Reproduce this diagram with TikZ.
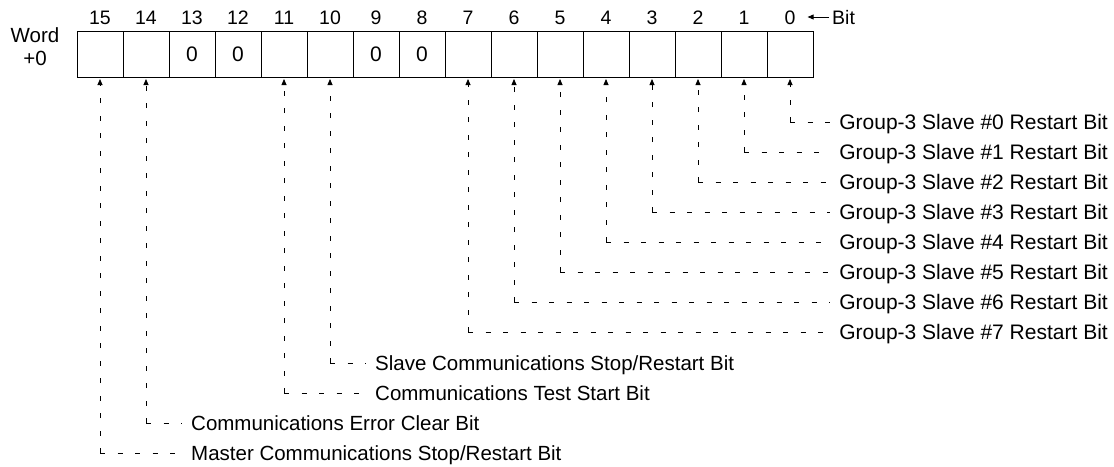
\documentclass[tikz,border=0pt]{standalone}
\usepackage{fontspec}
\setmainfont{Liberation Sans}
\usetikzlibrary{arrows.meta}

\begin{document}
\begin{tikzpicture}[
  x=1pt, y=-1pt,
  font=\fontsize{20.5}{24}\selectfont,
  cell/.style={rectangle, draw=black, line width=1pt, minimum width=46pt, minimum height=46pt, inner sep=0pt, text height=15pt, text depth=0pt, font=\fontsize{21}{24}\selectfont},
  bitnum/.style={inner sep=0pt, text height=14pt, text depth=0pt, font=\fontsize{19.5}{22}\selectfont},
  desc/.style={inner xsep=9pt, inner ysep=2pt, text height=15pt, text depth=0pt},
  dline/.style={line width=0.8pt, dash pattern=on 5pt off 12.5pt},
  conn/.style={dline, -{Triangle[width=5pt,length=6pt]}, shorten >=1.5pt},
  ptr/.style={-{Triangle[width=5pt,length=6pt]}, line width=0.8pt},
]
  \useasboundingbox (0,0) rectangle (1114,466);

  % Word +0 register
  \node[bitnum, font=\fontsize{20.5}{24}\selectfont, text height=15pt] (word) at (35,35) {Word};
  \node[bitnum, font=\fontsize{20.5}{24}\selectfont, text height=15pt] (off) at (35,58) {+0};
  \foreach \b/\v in {15/,14/,13/0,12/0,11/,10/,9/0,8/0,7/,6/,5/,4/,3/,2/,1/,0/} {
    \node[cell] (c\b) at ({100+46*(15-\b)},54) {\v};
    \node[bitnum] (n\b) at ({100+46*(15-\b)},17) {\b};
  }
  \node[bitnum, anchor=west] (bit) at (832,17) {Bit};
  \draw[ptr, shorten <=3pt, shorten >=12pt] (bit.west) -- (n0.east);

  % Bit descriptions
  \foreach \b in {0,...,7}
    \node[desc, anchor=east, font=\fontsize{21}{24}\selectfont] (g\b) at (1117,{122+30*\b}) {Group-3 Slave \#\b{} Restart Bit};
  \node[desc, anchor=west] (slv) at (366,363) {Slave Communications Stop/Restart Bit};
  \node[desc, anchor=west] (tst) at (366,393) {Communications Test Start Bit};
  \node[desc, anchor=west] (err) at (182,423) {Communications Error Clear Bit};
  \node[desc, anchor=west] (mst) at (182,453) {Master Communications Stop/Restart Bit};

  % Pointers, dashes starting at the corner
  \foreach \l/\b in {g0/0,g1/1,g2/2,g3/3,g4/4,g5/5,g6/6,g7/7,slv/10,tst/11,err/14,mst/15} {
    \draw[dline] (c\b.south |- \l.west) -- (\l.west);
    \draw[conn] (c\b.south |- \l.west) -- (c\b.south);
  }
\end{tikzpicture}
\end{document}
